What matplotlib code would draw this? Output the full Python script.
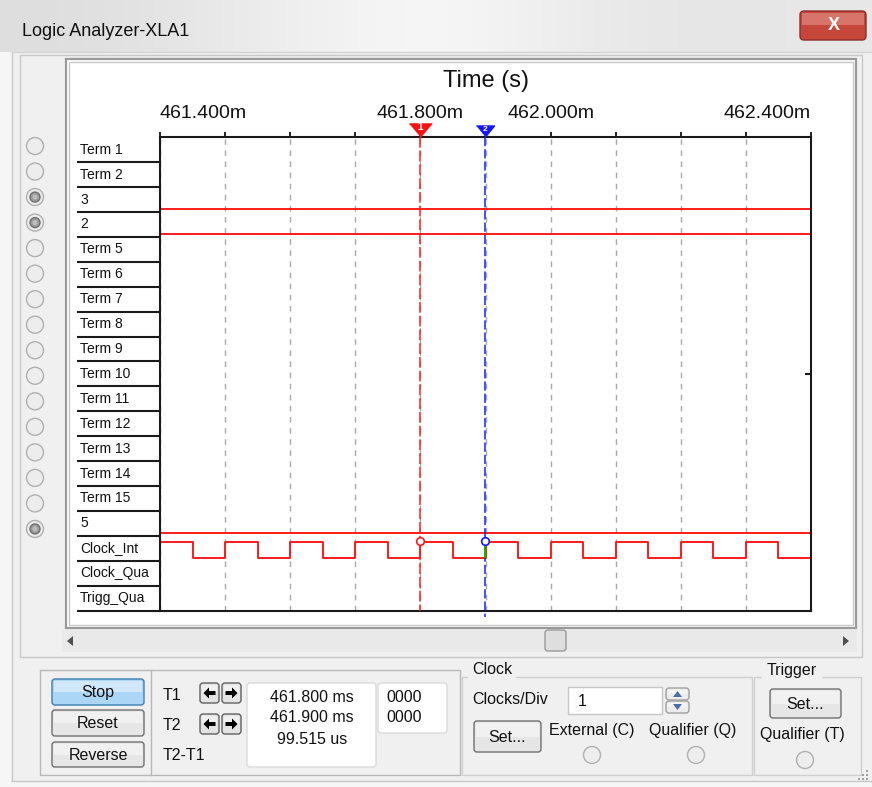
import numpy as np
import matplotlib.pyplot as plt
from matplotlib.patches import Rectangle, FancyBboxPatch, Circle, Polygon

plt.rcParams['font.family'] = ['Liberation Sans', 'DejaVu Sans']

# rows of the analyzer, top to bottom
row_labels = ['Term 1', 'Term 2', '3', '2', 'Term 5', 'Term 6', 'Term 7', 'Term 8',
              'Term 9', 'Term 10', 'Term 11', 'Term 12', 'Term 13', 'Term 14',
              'Term 15', '5', 'Clock_Int', 'Clock_Qua', 'Trigg_Qua']
connected = [0, 0, 1, 1, 0, 0, 0, 0, 0, 0, 0, 0, 0, 0, 0, 1]

# time axis in ms
time_ticks = [461.4, 461.5, 461.6, 461.7, 461.8, 461.9, 462.0, 462.1, 462.2, 462.3, 462.4]
tick_labels = ['461.400m', '', '', '', '461.800m', '', '462.000m', '', '', '', '462.400m']

# connected channels: row index and logic level
static_rows = [2, 3, 15]
static_levels = [0, 0, 0]

# internal clock, edge times (ms) and level after each edge
clock_times = [461.40, 461.45, 461.50, 461.55, 461.60, 461.65, 461.70, 461.75, 461.80, 461.85,
               461.90, 461.95, 462.00, 462.05, 462.10, 462.15, 462.20, 462.25, 462.30, 462.35,
               462.40]
clock_levels = [1, 0, 1, 0, 1, 0, 1, 0, 1, 0, 1, 0, 1, 0, 1, 0, 1, 0, 1, 0, 0]
clock_row = 16

# cursors (ms)
t1 = 461.800
t2 = 461.899515


def level_y(row, lev):
    return row + 0.88 - 0.63 * np.asarray(lev)


def button(a, x0, y0, x1, y1, text, face='#e6e6e6', edge='#707070', size=11.5):
    a.add_patch(FancyBboxPatch((x0, y0), x1 - x0, y1 - y0,
                               boxstyle='round,pad=0,rounding_size=3',
                               fc=face, ec=edge, lw=1))
    a.add_patch(Rectangle((x0 + 2, y0 + 2), x1 - x0 - 4, (y1 - y0) / 2 - 2,
                          fc='white', ec='none', alpha=0.45))
    if text:
        a.text((x0 + x1) / 2, (y0 + y1) / 2 + 1, text, ha='center', va='center',
               fontsize=size, color='#111111')


def radio(a, cx, cy, on=False):
    a.add_patch(Circle((cx, cy), 8.5, fc='#ededed', ec='#b0b0b0', lw=1))
    if on:
        a.add_patch(Circle((cx, cy), 5, fc='#9c9c9c', ec='#6f6f6f', lw=1))
        a.add_patch(Circle((cx, cy), 2.5, fc='#bdbdbd', ec='none'))


fig = plt.figure(figsize=(8.72, 7.87), dpi=100, facecolor='#f0f0f0')

# window chrome, pixel coordinates
bg = fig.add_axes([0, 0, 1, 1])
bg.set_xlim(0, 872)
bg.set_ylim(787, 0)
bg.axis('off')

shade = np.array([0.87, 0.89, 0.92, 0.95, 0.97, 0.94, 0.91, 0.90, 0.91])
bg.imshow(np.repeat(shade[None, :, None], 3, axis=2), extent=(0, 872, 52, 0),
          aspect='auto', interpolation='bicubic')
bg.add_patch(Rectangle((0, 52), 12, 735, fc='#f6f6f6', ec='none'))
bg.plot([12, 12], [52, 781], color='#c8c8c8', lw=1)
bg.plot([12, 872], [52, 52], color='#d4d4d4', lw=1)
bg.plot([12, 872], [781, 781], color='#c8c8c8', lw=1)
bg.add_patch(Rectangle((0, 782), 872, 5, fc='#f6f6f6', ec='none'))
bg.text(22, 31, 'Logic Analyzer-XLA1', ha='left', va='center', fontsize=13, color='#111111')

# close button
bg.add_patch(FancyBboxPatch((800, 11), 66, 29, boxstyle='round,pad=0,rounding_size=4',
                            fc='#c7463a', ec='#8a2f28', lw=1))
bg.add_patch(Rectangle((802, 13), 62, 12, fc='#e08a80', ec='none', alpha=0.7))
bg.text(834, 25, 'X', ha='center', va='center', fontsize=13, fontweight='bold',
        color='white')

# outer group line and display frame
bg.add_patch(Rectangle((20, 55), 842, 602, fc='none', ec='#c8c8c8', lw=1))
bg.add_patch(Rectangle((66, 59), 790, 569, fc='white', ec='#9a9a9a', lw=1.6))
bg.add_patch(Rectangle((69, 62), 784, 563, fc='white', ec='#c8c8c8', lw=1))

# channel selector radios
for k, on in enumerate(connected):
    radio(bg, 35, 146 + 25.53 * k, bool(on))

# scrollbar
bg.add_patch(Rectangle((62, 630), 795, 22, fc='#e9e9e9', ec='none'))
bg.add_patch(Polygon([(67, 641), (73, 636), (73, 646)], fc='#505050', ec='none'))
bg.add_patch(Polygon([(849, 641), (843, 636), (843, 646)], fc='#505050', ec='none'))
bg.add_patch(FancyBboxPatch((545, 630), 21, 21, boxstyle='round,pad=0,rounding_size=3',
                            fc='#dedede', ec='#9a9a9a', lw=1))

# bottom control panel
bg.add_patch(Rectangle((40, 670), 420, 105, fc='none', ec='#b8b8b8', lw=1))
bg.plot([151, 151], [670, 775], color='#b8b8b8', lw=1)
button(bg, 52, 679, 144, 705, 'Stop', face='#acd6f6', edge='#3c7fb1')
button(bg, 52, 710, 144, 736, 'Reset')
button(bg, 52, 742, 144, 767, 'Reverse')

for lab, yy in [('T1', 695), ('T2', 725), ('T2-T1', 755)]:
    bg.text(163, yy, lab, ha='left', va='center', fontsize=11.5, color='#111111')
for yy in [683, 714]:
    for x0, d in [(200, -1), (222, 1)]:
        button(bg, x0, yy, x0 + 19, yy + 20, '', face='#e4e4e4', edge='#606060')
        cx, cy = x0 + 9.5, yy + 10
        bg.add_patch(Polygon([(cx + d * 6, cy), (cx + d * 0.5, cy - 5.5), (cx + d * 0.5, cy - 2),
                              (cx - d * 6, cy - 2), (cx - d * 6, cy + 2), (cx + d * 0.5, cy + 2),
                              (cx + d * 0.5, cy + 5.5)], fc='black', ec='none'))

bg.add_patch(FancyBboxPatch((247, 683), 129, 84, boxstyle='round,pad=0,rounding_size=3',
                            fc='white', ec='#dadada', lw=1))
bg.add_patch(FancyBboxPatch((378, 683), 69, 50, boxstyle='round,pad=0,rounding_size=3',
                            fc='white', ec='#dadada', lw=1))
readouts = [f'{t1:.3f} ms', f'{t2:.3f} ms', f'{(t2 - t1) * 1000:.3f} us']
for s, yy in zip(readouts, [698, 718, 739]):
    bg.text(312, yy, s, ha='center', va='center', fontsize=11.5, color='#111111')
for yy in [698, 718]:
    bg.text(386, yy, '0000', ha='left', va='center', fontsize=11.5, color='#111111')

# clock group
bg.add_patch(Rectangle((462, 677), 290, 98, fc='none', ec='#cfcfcf', lw=1))
bg.add_patch(Rectangle((468, 670), 48, 12, fc='#f0f0f0', ec='none'))
bg.text(472, 670, 'Clock', ha='left', va='center', fontsize=11.5, color='#111111')
bg.text(472, 700, 'Clocks/Div', ha='left', va='center', fontsize=11.5, color='#111111')
bg.add_patch(Rectangle((568, 687), 94, 27, fc='white', ec='#c6c6c6', lw=1))
bg.text(578, 702, '1', ha='left', va='center', fontsize=11.5, color='#111111')
button(bg, 666, 688, 689, 700, '', face='#ececec', edge='#a0a0a0')
button(bg, 666, 701, 689, 713, '', face='#ececec', edge='#a0a0a0')
bg.add_patch(Polygon([(677.5, 691), (673, 697), (682, 697)], fc='#4a6fa5', ec='none'))
bg.add_patch(Polygon([(677.5, 710), (673, 704), (682, 704)], fc='#4a6fa5', ec='none'))
button(bg, 474, 721, 541, 752, 'Set...')
bg.text(592, 730, 'External (C)', ha='center', va='center', fontsize=11.5, color='#111111')
bg.text(693, 730, 'Qualifier (Q)', ha='center', va='center', fontsize=11.5, color='#111111')
radio(bg, 592, 755)
radio(bg, 696, 755)

# trigger group
bg.add_patch(Rectangle((754, 677), 107, 98, fc='none', ec='#cfcfcf', lw=1))
bg.add_patch(Rectangle((762, 670), 60, 12, fc='#f0f0f0', ec='none'))
bg.text(767, 670, 'Trigger', ha='left', va='center', fontsize=11.5, color='#111111')
button(bg, 770, 689, 841, 718, 'Set...')
bg.text(802, 735, 'Qualifier (T)', ha='center', va='center', fontsize=11.5, color='#111111')
radio(bg, 805, 760)
for gx, gy in [(866, 770), (862, 774), (866, 774), (858, 778), (862, 778), (866, 778)]:
    bg.add_patch(Rectangle((gx, gy), 2, 2, fc='#a0a0a0', ec='none'))

# waveform display
ax = fig.add_axes([160 / 872, 1 - 610.5 / 787, 651 / 872, 473.2 / 787])
ax.set_facecolor('white')
ax.set_xlim(time_ticks[0], time_ticks[-1])
ax.set_ylim(len(row_labels), 0)
ax.xaxis.tick_top()
ax.set_xticks(time_ticks, tick_labels)
ax.set_yticks([])
ax.tick_params(axis='x', direction='out', length=3.8, width=1.3, pad=7.5, labelsize=14,
               colors='#111111')
ax.get_xticklabels()[0].set_horizontalalignment('left')
ax.get_xticklabels()[-1].set_horizontalalignment('right')
ax.xaxis.set_label_position('top')
ax.set_xlabel('Time (s)', fontsize=17, labelpad=12.5, color='#111111')
for sp in ax.spines.values():
    sp.set_linewidth(1.5)
    sp.set_color('#1a1a1a')
ax.grid(axis='x', color='#a8a8a8', linestyle=(0, (4, 4)), linewidth=1, zorder=0)

# row labels and separators left of the plot
ytr = ax.get_yaxis_transform()
for k, lab in enumerate(row_labels):
    ax.text(-0.1229, k + 0.5, lab, transform=ytr, ha='left', va='center',
            fontsize=10, color='#111111', clip_on=False)
ax.hlines(np.arange(1, len(row_labels) + 1), -0.1275, 0, transform=ytr,
          color='#1a1a1a', lw=1.5, clip_on=False)

# channel traces
for r, lev in zip(static_rows, static_levels):
    ax.plot([time_ticks[0], time_ticks[-1]], [level_y(r, lev)] * 2, color='#ff1a1a', lw=1.4)
ax.plot(clock_times, level_y(clock_row, clock_levels), drawstyle='steps-post',
        color='#ff1a1a', lw=1.4)
ax.plot([time_ticks[-1]], [9.5], marker=0, ms=4.5, mew=1.5, color='#1a1a1a', clip_on=False)

# cursors
ax.plot([t1, t1], [0, len(row_labels)], color='#ff2020', ls=(0, (7, 2)), lw=1.1, zorder=5)
ax.plot([t2, t2], [0, len(row_labels) + 0.25], color='#1020ff', ls=(0, (6, 2)), lw=1.1,
        zorder=5, clip_on=False)
ax.vlines(t2, level_y(clock_row, 1), level_y(clock_row, 0), color='#00c000', lw=1.4, zorder=6)
ax.plot(t1, -0.29, marker=[(-11, 6.5), (11, 6.5), (0, -6.5)], ms=16, color='#ff1010',
        clip_on=False, zorder=7)
ax.plot(t2, -0.25, marker=[(-9, 5.5), (9, 5.5), (0, -5.5)], ms=13, color='#1515ff',
        clip_on=False, zorder=7)
ax.text(t1, -0.4, '1', ha='center', va='center', fontsize=7, fontweight='bold',
        color='white', clip_on=False, zorder=8)
ax.text(t2, -0.33, '2', ha='center', va='center', fontsize=6, fontweight='bold',
        color='white', clip_on=False, zorder=8)
ax.plot(t1, 16.22, marker='o', ms=5.5, mfc='white', mec='#ff1a1a', mew=1.2, zorder=7)
ax.plot(t2, 16.22, marker='o', ms=5.5, mfc='white', mec='#1515ff', mew=1.2, zorder=7)

fig.savefig('out.png', dpi=100, facecolor=fig.get_facecolor())
